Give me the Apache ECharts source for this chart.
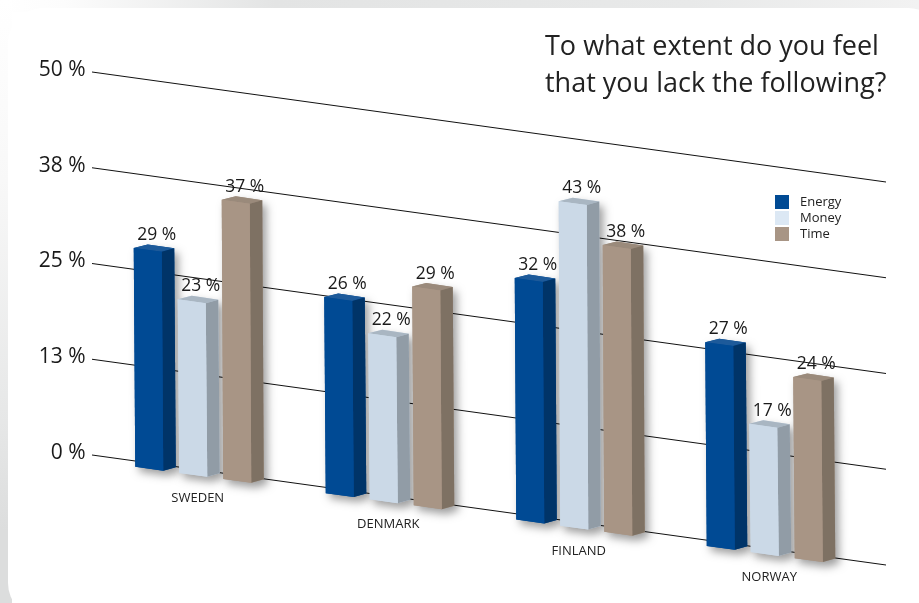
<!DOCTYPE html>
<html>
<head>
<meta charset="utf-8">
<style>html,body{margin:0;padding:0;background:#fff}#c{width:919px;height:603px}</style>
<script src="https://cdn.jsdelivr.net/npm/echarts@6/dist/echarts.min.js"></script>
</head>
<body>
<div id="c"></div>
<script>
const categories = ['SWEDEN', 'DENMARK', 'FINLAND', 'NORWAY'];
const energy = [29, 26, 32, 27];
const money = [23, 22, 43, 17];
const time = [37, 29, 38, 24];
const yTicks = [0, 12.5, 25, 37.5, 50];
const titleText = 'To what extent do you feel\nthat you lack the following?';

const FONT = '"Open Sans"';
const SLOPE = 110 / 794, LINE_X0 = 92, LINE_X1 = 886;
const FRONT_W = 28, SIDE_W = 12.5, RAISE = 6, LEAN = 1.5, BAR_SCALE = 0.985;
const slant = x => (x - LINE_X0) * SLOPE;

function barRenderer(offset, front, side, top) {
  return function (params, api) {
    const c = api.coord([api.value(0), api.value(1)]);
    const b = api.coord([api.value(0), 0]);
    const xL = c[0] + offset;
    const s = slant(xL) + RAISE;
    const yT = b[1] - (b[1] - c[1]) * BAR_SCALE + s, yB = b[1] + s;
    const dF = FRONT_W * SLOPE;
    const fTL = [xL, yT], fTR = [xL + FRONT_W, yT + dF];
    const sTR = [xL + FRONT_W + SIDE_W, yT + dF - 3.5];
    const bk = [xL + 14, yT - 3.5];
    const fBL = [xL + LEAN, yB], fBR = [xL + FRONT_W + LEAN, yB + dF];
    const sBR = [xL + FRONT_W + SIDE_W + LEAN, yB + dF - 3.5];
    const poly = (pts, fill, extra) => ({
      type: 'polygon', shape: { points: pts },
      style: Object.assign({ fill: fill }, extra || {}), z2: extra ? 0 : 1
    });
    return {
      type: 'group',
      children: [
        poly([fTL, bk, sTR, sBR, fBR, fBL], front, {
          shadowColor: 'rgba(0,0,0,0.38)', shadowBlur: 9, shadowOffsetX: 4, shadowOffsetY: 5
        }),
        poly([fTL, bk, sTR, fTR], top),
        poly([fTR, sTR, sBR, fBR], side),
        poly([fTL, fTR, fBR, fBL], front),
        {
          type: 'text', z2: 3,
          style: {
            text: api.value(1) + ' %', x: xL + 23, y: yT - 4,
            align: 'center', verticalAlign: 'bottom',
            font: '17.5px ' + FONT, fill: '#1a1a1a'
          }
        }
      ]
    };
  };
}

function barSeries(name, values, offset, front, side, top) {
  return {
    name: name, type: 'custom', coordinateSystem: 'cartesian2d', z: 3, clip: false,
    itemStyle: { color: front },
    renderItem: barRenderer(offset, front, side, top),
    encode: { x: 0, y: 1 },
    data: values.map((v, i) => [i, v])
  };
}

const chart = echarts.init(document.getElementById('c'), null, { renderer: 'canvas' });
chart.setOption({
  animation: false,
  backgroundColor: 'transparent',
  graphic: { elements: [
    { type: 'rect', z: -10, silent: true, shape: { x: 0, y: 0, width: 919, height: 12 },
      style: { fill: new echarts.graphic.LinearGradient(0, 0, 1, 0, [
        { offset: 0, color: '#ffffff' }, { offset: 0.07, color: '#fcfcfc' },
        { offset: 0.3, color: '#e3e4e4' }, { offset: 0.75, color: '#e8e9e9' }, { offset: 1, color: '#f2f2f2' }]) } },
    { type: 'rect', z: -10, silent: true, shape: { x: 0, y: 0, width: 12, height: 603 },
      style: { fill: new echarts.graphic.LinearGradient(0, 0, 0, 1, [
        { offset: 0, color: '#ffffff' }, { offset: 0.3, color: '#f8f8f8' },
        { offset: 0.7, color: '#e6e7e7' }, { offset: 0.88, color: '#dcdddd' }, { offset: 1, color: '#dcdddd' }]) } },
    { type: 'rect', z: -9, silent: true, shape: { x: 8, y: 8, width: 935, height: 610, r: 35 },
      style: { fill: '#ffffff' } }
  ] },
  title: {
    text: titleText, left: 545, top: 29, padding: 0,
    textStyle: { fontFamily: FONT, fontWeight: 'normal', fontSize: 27, lineHeight: 37, color: '#222' }
  },
  legend: {
    orient: 'vertical', left: 775, top: 195, padding: 0, itemWidth: 14, itemHeight: 14, itemGap: 2,
    icon: 'rect', selectedMode: false,
    textStyle: { fontFamily: FONT, fontSize: 13, lineHeight: 14, color: '#222', padding: [0, 0, 0, 6] },
    data: [
      { name: 'Energy', itemStyle: { color: '#004a94' } },
      { name: 'Money', itemStyle: { color: '#dce8f4' } },
      { name: 'Time', itemStyle: { color: '#a89585' } }
    ]
  },
  grid: { left: 102.5, width: 762, top: 72, height: 383 },
  xAxis: {
    type: 'category', data: categories, show: false
  },
  yAxis: {
    type: 'value', min: 0, max: 50, interval: 12.5,
    axisLine: { show: false }, axisTick: { show: false }, splitLine: { show: false },
    axisLabel: {
      margin: 17, fontFamily: FONT, fontSize: 21, color: '#1a1a1a',
      verticalAlign: 'bottom', lineHeight: 4,
      formatter: v => Math.round(v) + ' %'
    }
  },
  series: [
    {
      type: 'custom', z: 1, clip: false, silent: true, legendHoverLink: false,
      renderItem: function (params, api) {
        const p = api.coord([0, api.value(0)]);
        return {
          type: 'line',
          shape: { x1: LINE_X0, y1: p[1], x2: LINE_X1, y2: p[1] + slant(LINE_X1) },
          style: { stroke: '#111', lineWidth: 1 }
        };
      },
      encode: { y: 0 },
      data: yTicks.map(v => [v])
    },
    {
      type: 'custom', z: 2, clip: false, silent: true,
      renderItem: function (params, api) {
        const p = api.coord([api.value(0), 0]);
        return {
          type: 'text',
          style: {
            text: categories[api.value(0)], x: p[0], y: p[1] + slant(p[0]) + 28.5,
            align: 'center', verticalAlign: 'middle',
            font: '13px ' + FONT, fill: '#222'
          }
        };
      },
      encode: { x: 0 },
      data: categories.map((c, i) => [i])
    },
    barSeries('Energy', energy, -64, '#004a94', '#003468', '#1d5a9a'),
    barSeries('Money', money, -20, '#cbd9e7', '#919ca6', '#a9b6c2'),
    barSeries('Time', time, 24, '#a89585', '#7e7163', '#9a8a7b')
  ]
});
</script>
</body>
</html>
